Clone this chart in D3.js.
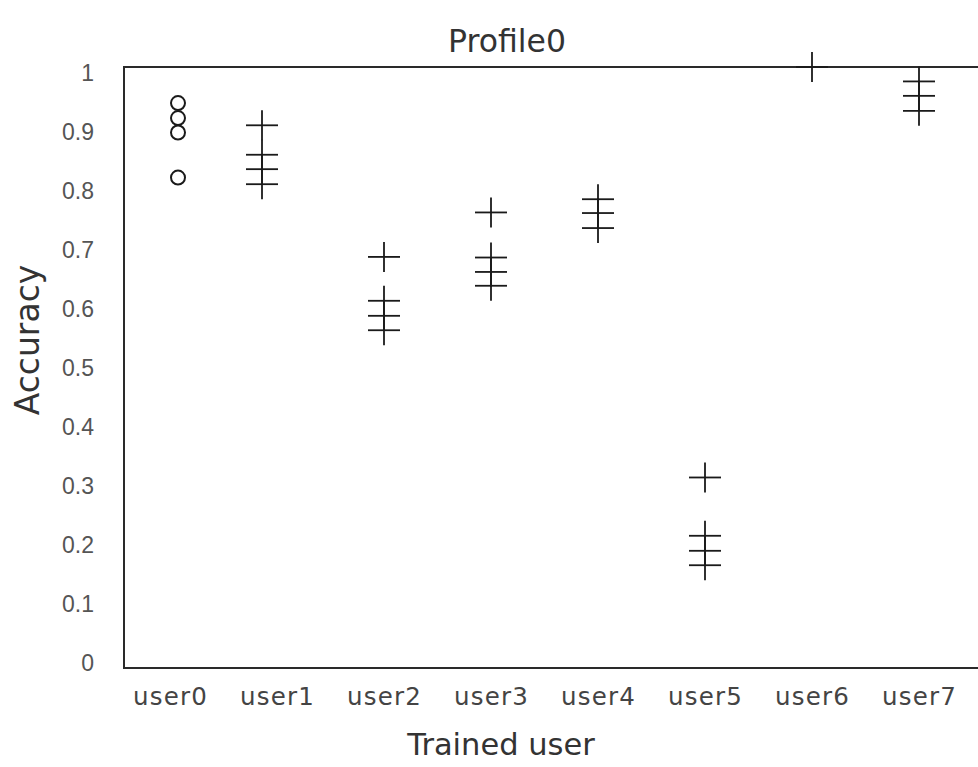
<!DOCTYPE html>
<html>
<head>
<meta charset="utf-8">
<script src="https://cdn.jsdelivr.net/npm/d3@7"></script>
<style>
  html, body { margin: 0; padding: 0; background: #fff; }
  svg { display: block; }
</style>
</head>
<body>
<div id="chart"></div>
<script>

// ---- data
const users = ["user0","user1","user2","user3","user4","user5","user6","user7"];
const markerKind = ["circle","plus","plus","plus","plus","plus","plus","plus"];
const accuracy = [
	[0.940, 0.915, 0.891, 0.816],
	[0.903, 0.854, 0.830, 0.805],
	[0.684, 0.611, 0.586, 0.562],
	[0.758, 0.683, 0.659, 0.636],
	[0.780, 0.757, 0.732],
	[0.317, 0.220, 0.195, 0.171],
	[1.000],
	[0.976, 0.952, 0.927]
];
const yTicks = [0,0.1,0.2,0.3,0.4,0.5,0.6,0.7,0.8,0.9,1];
const titleText = "Profile0";
const xTitle = "Trained user";
const yTitle = "Accuracy";

// ---- layout
const W = 978, H = 767;
const plot = {left:124, top:67, bottom:668, right:990};

const svg = d3.select("#chart").append("svg")
	.attr("width",W).attr("height",H)
	.attr("viewBox","0 0 "+W+" "+H);

const x = d3.scalePoint().domain(users).range([170,919]);
const y = d3.scaleLinear().domain([0,1]).range([plot.bottom,plot.top]);
// labels sit a little inside the frame in the original
const yLab = d3.scaleLinear().domain([0,1]).range([662,72]);

// markers for the first two users are nudged off their label centre
const markerNudge = {user0: 8, user1: -15};

// ---- frame (left, top, bottom)
const frame = svg.append("g").attr("stroke","#2a2a2a").attr("stroke-width",2).attr("fill","none");
frame.append("line").attr("x1",plot.left).attr("x2",plot.left).attr("y1",y(1)-1).attr("y2",y(0)+1);
frame.append("line").attr("x1",plot.left).attr("x2",plot.right).attr("y1",y(1)).attr("y2",y(1));
frame.append("line").attr("x1",plot.left).attr("x2",plot.right).attr("y1",y(0)).attr("y2",y(0));

// ---- axes (labels only)
const yAxis = svg.append("g")
	.attr("transform","translate(94,0)")
	.call(d3.axisLeft(yLab).tickValues(yTicks).tickSize(0).tickPadding(0).tickFormat(d=>d3.format("")(d)));
yAxis.select(".domain").remove();
yAxis.selectAll("text")
	.attr("font-family","'Liberation Sans', Arial, sans-serif")
	.attr("font-size",23)
	.attr("fill","#555")
	.attr("dy","0.36em");

const xAxis = svg.append("g")
	.attr("transform","translate(0,705)")
	.call(d3.axisBottom(x).tickSize(0).tickPadding(0));
xAxis.select(".domain").remove();
xAxis.selectAll("text")
	.attr("font-family","'DejaVu Sans', sans-serif")
	.attr("font-size",24.5)
	.attr("letter-spacing",1.2)
	.attr("fill","#444")
	.attr("dy",0);

// ---- titles
svg.append("text")
	.attr("x",507).attr("y",52)
	.attr("text-anchor","middle")
	.attr("font-family","'DejaVu Sans', sans-serif")
	.attr("font-size",31.5)
	.attr("fill","#333")
	.text(titleText);

svg.append("text")
	.attr("x",501).attr("y",755)
	.attr("text-anchor","middle")
	.attr("font-family","'DejaVu Sans', sans-serif")
	.attr("font-size",30.5)
	.attr("fill","#333")
	.text(xTitle);

svg.append("text")
	.attr("transform","translate(39,340) rotate(-90)")
	.attr("text-anchor","middle")
	.attr("font-family","'DejaVu Sans', sans-serif")
	.attr("font-size",33)
	.attr("fill","#333")
	.text(yTitle);

// ---- markers
const points = [];
users.forEach((u,i)=>accuracy[i].forEach(v=>points.push({user:u, kind:markerKind[i], value:v})));

const px = d=>x(d.user)+(markerNudge[d.user]||0);

const marks = svg.append("g");

marks.selectAll("circle").data(points.filter(d=>d.kind=="circle")).enter().append("circle")
	.attr("cx",px).attr("cy",d=>y(d.value)).attr("r",7)
	.attr("fill","none").attr("stroke","#1a1a1a").attr("stroke-width",2);

const plus = marks.selectAll("g.plus").data(points.filter(d=>d.kind=="plus")).enter().append("g")
	.attr("class","plus")
	.attr("transform",d=>"translate("+px(d)+","+y(d.value)+")")
	.attr("stroke","#1a1a1a").attr("stroke-width",1.8);
plus.append("line").attr("x1",-16).attr("x2",16).attr("y1",0).attr("y2",0);
plus.append("line").attr("x1",0).attr("x2",0).attr("y1",-15).attr("y2",15);

</script>
</body>
</html>
